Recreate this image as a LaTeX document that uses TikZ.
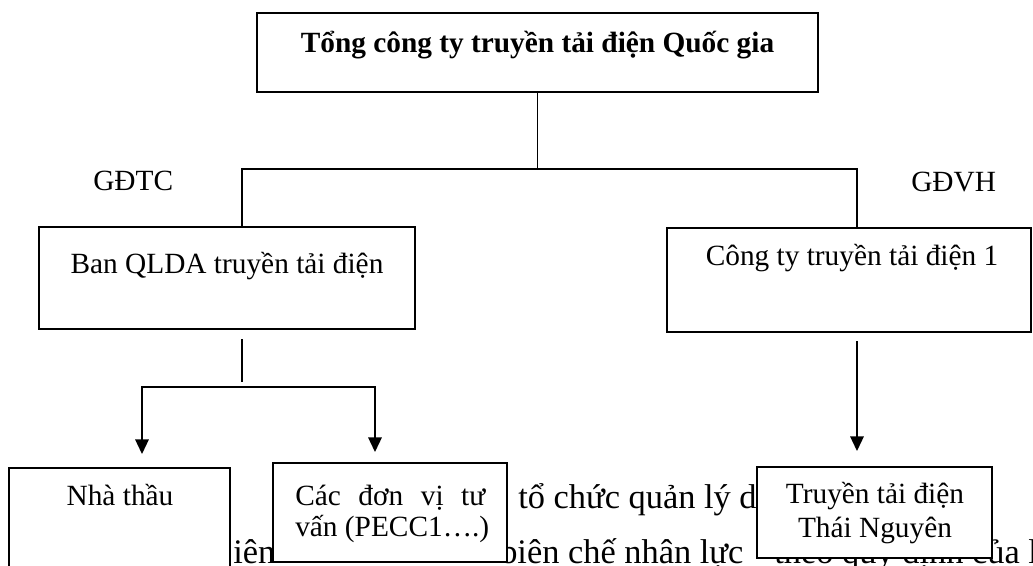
\documentclass[tikz,border=0pt]{standalone}
\usepackage{fontspec}
\setmainfont{Liberation Serif}
\usetikzlibrary{arrows.meta,fit}
\begin{document}
\begin{tikzpicture}[x=0.75pt,y=-0.75pt,
  box/.style={draw, fill=white, line width=1.4pt, inner sep=0pt},
  lab/.style={font=\fontsize{22}{26}\selectfont, inner sep=0pt, anchor=base},
  bg/.style={font=\fontsize{25.8}{30}\selectfont, inner sep=0pt, anchor=base west},
  conn/.style={line width=1.1pt},
  arr/.style={line width=1.6pt, -{Triangle[length=11pt,width=10pt]}, line cap=rect}]
\useasboundingbox (0,0) rectangle (1033,565);
\clip (0,0) rectangle (1033,565);
% page text behind the chart
\node[bg] (bg1) at (518,508) {tổ chức quản lý d};
\node[bg] (bg2) at (233,563) {iên};
\node[bg] (bg3) at (500,563.5) {biên chế nhân lực};
\node[bg] (bg4) at (774,563.5) {theo quy định của l};
% boxes
\node[box, fit={(257,13) (818,92)}] (top) {};
\node[box, fit={(39,227) (415,329)}] (ban) {};
\node[box, fit={(667,228) (1031,332)}] (cty) {};
\node[box, fit={(9,468) (230,590)}] (nha) {};
\node[box, fit={(273,463) (507,562)}] (tv) {};
\node[box, fit={(757,467) (992,558)}] (ttd) {};
% labels
\node[lab, font=\bfseries\fontsize{22}{26}\selectfont] (topl) at (537.5,52) {Tổng công ty truyền tải điện Quốc gia};
\node[lab] (banl) at (227,273) {Ban QLDA truyền tải điện};
\node[lab] (ctyl) at (852,265) {Công ty truyền tải điện 1};
\node[lab] (nhal) at (120,505) {Nhà thầu};
\node[lab, anchor=base west] (tv1) at (295,505) {\makebox[142.5pt][s]{Các đơn vị tư}};
\node[lab, anchor=base west] (tv2) at (295,536) {vấn (PECC1….)};
\node[lab] (tt1) at (875,503) {Truyền tải điện};
\node[lab] (tt2) at (875,537) {Thái Nguyên};
\node[lab, anchor=base west] (gdtc) at (93,190) {GĐTC};
\node[lab, anchor=base west] (gdvh) at (911,191) {GĐVH};
% connectors
\coordinate (hl) at (242,169);
\coordinate (hr) at (857,169);
\draw[conn] (top.south) -- (top.south |- hl);
\draw[conn] (ban.north -| hl) -- (hl) -- (hr) -- (cty.north -| hr);
\coordinate (b1) at (242,339);
\coordinate (b2) at (242,382);
\draw[conn] (b1) -- (b2);
\coordinate (el) at (142,387);
\coordinate (er) at (375,387);
\draw[arr] (er) -- (el) -- ([yshift=9.75pt]nha.north -| el);
\draw[arr] (er) -- ([yshift=7.5pt]tv.north -| er);
\coordinate (c1) at (857,342);
\draw[arr] (c1) -- ([yshift=11.25pt]ttd.north -| c1);
\end{tikzpicture}
\end{document}
